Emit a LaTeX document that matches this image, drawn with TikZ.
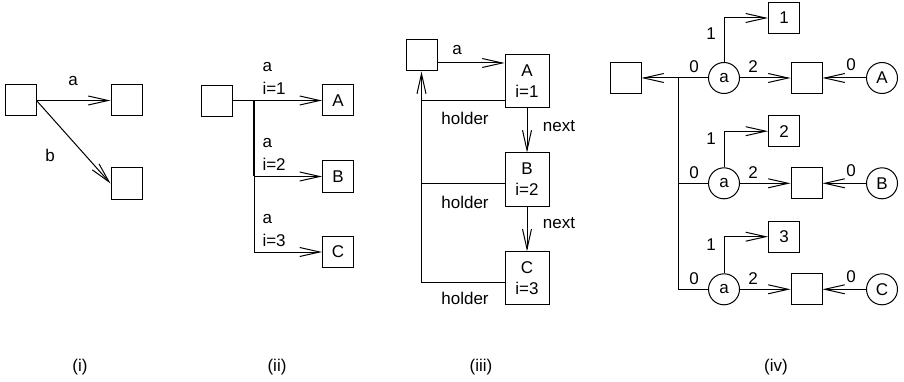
\documentclass[tikz,border=0pt]{standalone}
\usepackage{fontspec}
\setmainfont{Liberation Sans}
\usetikzlibrary{arrows.meta}
\begin{document}
\begin{tikzpicture}[x=1pt,y=-1pt,line width=1pt,
  font=\fontsize{17}{21}\selectfont,
  >={Straight Barb[length=20pt,width=9pt]},
  box/.style={draw,minimum size=31pt,inner sep=0pt},
  tall/.style={draw,minimum width=44pt,minimum height=53pt,inner sep=0pt,align=center},
  circ/.style={draw,circle,minimum size=31pt,inner sep=0pt},
  lbl/.style={inner sep=0pt},
  bus/.style={line width=1.8pt}]
\useasboundingbox (0,0) rectangle (904,382);

% (i) two labelled references
\node[box] (i0) at (20.5,100.5) {};
\node[box] (i1) at (126.5,100.5) {};
\node[box] (i2) at (126.5,183.5) {};
\draw[->] (i0.east) -- (i1.west);
\draw[->] (i0.east) -- (i2.west);
\node[lbl] (la) at (73,81) {a};
\node[lbl] (lb) at (50,155) {b};

% (ii) indexed references
\node[box] (ii0) at (217,101) {};
\node[box] (iiA) at (338,100.5) {A};
\node[box] (iiB) at (338,176.5) {B};
\node[box] (iiC) at (338,252) {C};
\coordinate (iij) at (254,100.5);
\draw[bus] (ii0.east |- iij) -- (iij) -- (iij |- iiB);
\draw[->] (iij) -- (iiA.west);
\draw[->] (iij) |- (iiB.west);
\draw[->] (iij) |- (iiC.west);
\foreach \n/\k/\y in {A/1/100.5,B/2/176.5,C/3/252}{
  \node[lbl,anchor=base west] (ia\n) at (262,\y-29) {a};
  \node[lbl,anchor=base west] (ii\n) at (262,\y-6) {i=\k};
}

% (iii) linked list with holder back-pointers
\node[box] (r) at (421.5,55.5) {};
\node[tall] (tA) at (527,81.5) {A\\i=1};
\node[tall] (tB) at (527,179.5) {B\\i=2};
\node[tall] (tC) at (527,278.3) {C\\i=3};
\coordinate (ra) at ([yshift=-7.5pt]r.east);
\draw[->] (ra) -- (ra -| tA.west);
\node[lbl] (ta) at (457,50) {a};
\draw[->] (tA) -- (tB);
\draw[->] (tB) -- (tC);
\node[lbl] (n1) at (559,126) {next};
\node[lbl] (n2) at (559,223) {next};
\coordinate (ha) at ([yshift=-19.5pt]tA.west);
\coordinate (hb) at ([yshift=-4.5pt]tB.west);
\coordinate (hc) at ([yshift=-3.7pt]tC.west);
\draw (ha) -- (ha -| r.south);
\draw (hb) -- (hb -| r.south);
\draw[->] (hc) -| (r.south);
\node[lbl] (h1) at (465,118) {holder};
\node[lbl] (h2) at (465,202) {holder};
\node[lbl] (h3) at (465,298) {holder};

% (iv) node graph
\node[box] (L) at (625.5,78) {};
\coordinate (j) at (678,78);
\foreach \r/\y/\ny/\k/\t/\ly in {1/78/18/1/A/34, 2/183.3/131.2/2/B/139, 3/289.3/236.7/3/C/245}{
  \node[circ] (a\r) at (724,\y) {a};
  \node[box] (n\r) at (784,\ny) {\k};
  \node[box] (m\r) at (806.5,\y) {};
  \node[circ] (c\r) at (882,\y) {\t};
  \draw[->] (a\r.north) |- (n\r.west);
  \draw[->] (a\r) -- (m\r);
  \draw[->] (c\r) -- (m\r);
  \node[lbl] (one\r) at (711,\ly) {1};
  \node[lbl] (zl\r) at (694,\y-11) {0};
  \node[lbl] (two\r) at (753,\y-11) {2};
  \node[lbl] (zr\r) at (851,\y-13) {0};
}
\draw[->] (a1) -- (L);
\draw (j) |- (a3);
\draw (j |- a2) -- (a2);

% captions
\node[lbl] (c1) at (80,367) {(i)};
\node[lbl] (c2) at (277,367) {(ii)};
\node[lbl] (c3) at (481,367) {(iii)};
\node[lbl] (c4) at (776,367) {(iv)};
\end{tikzpicture}
\end{document}
